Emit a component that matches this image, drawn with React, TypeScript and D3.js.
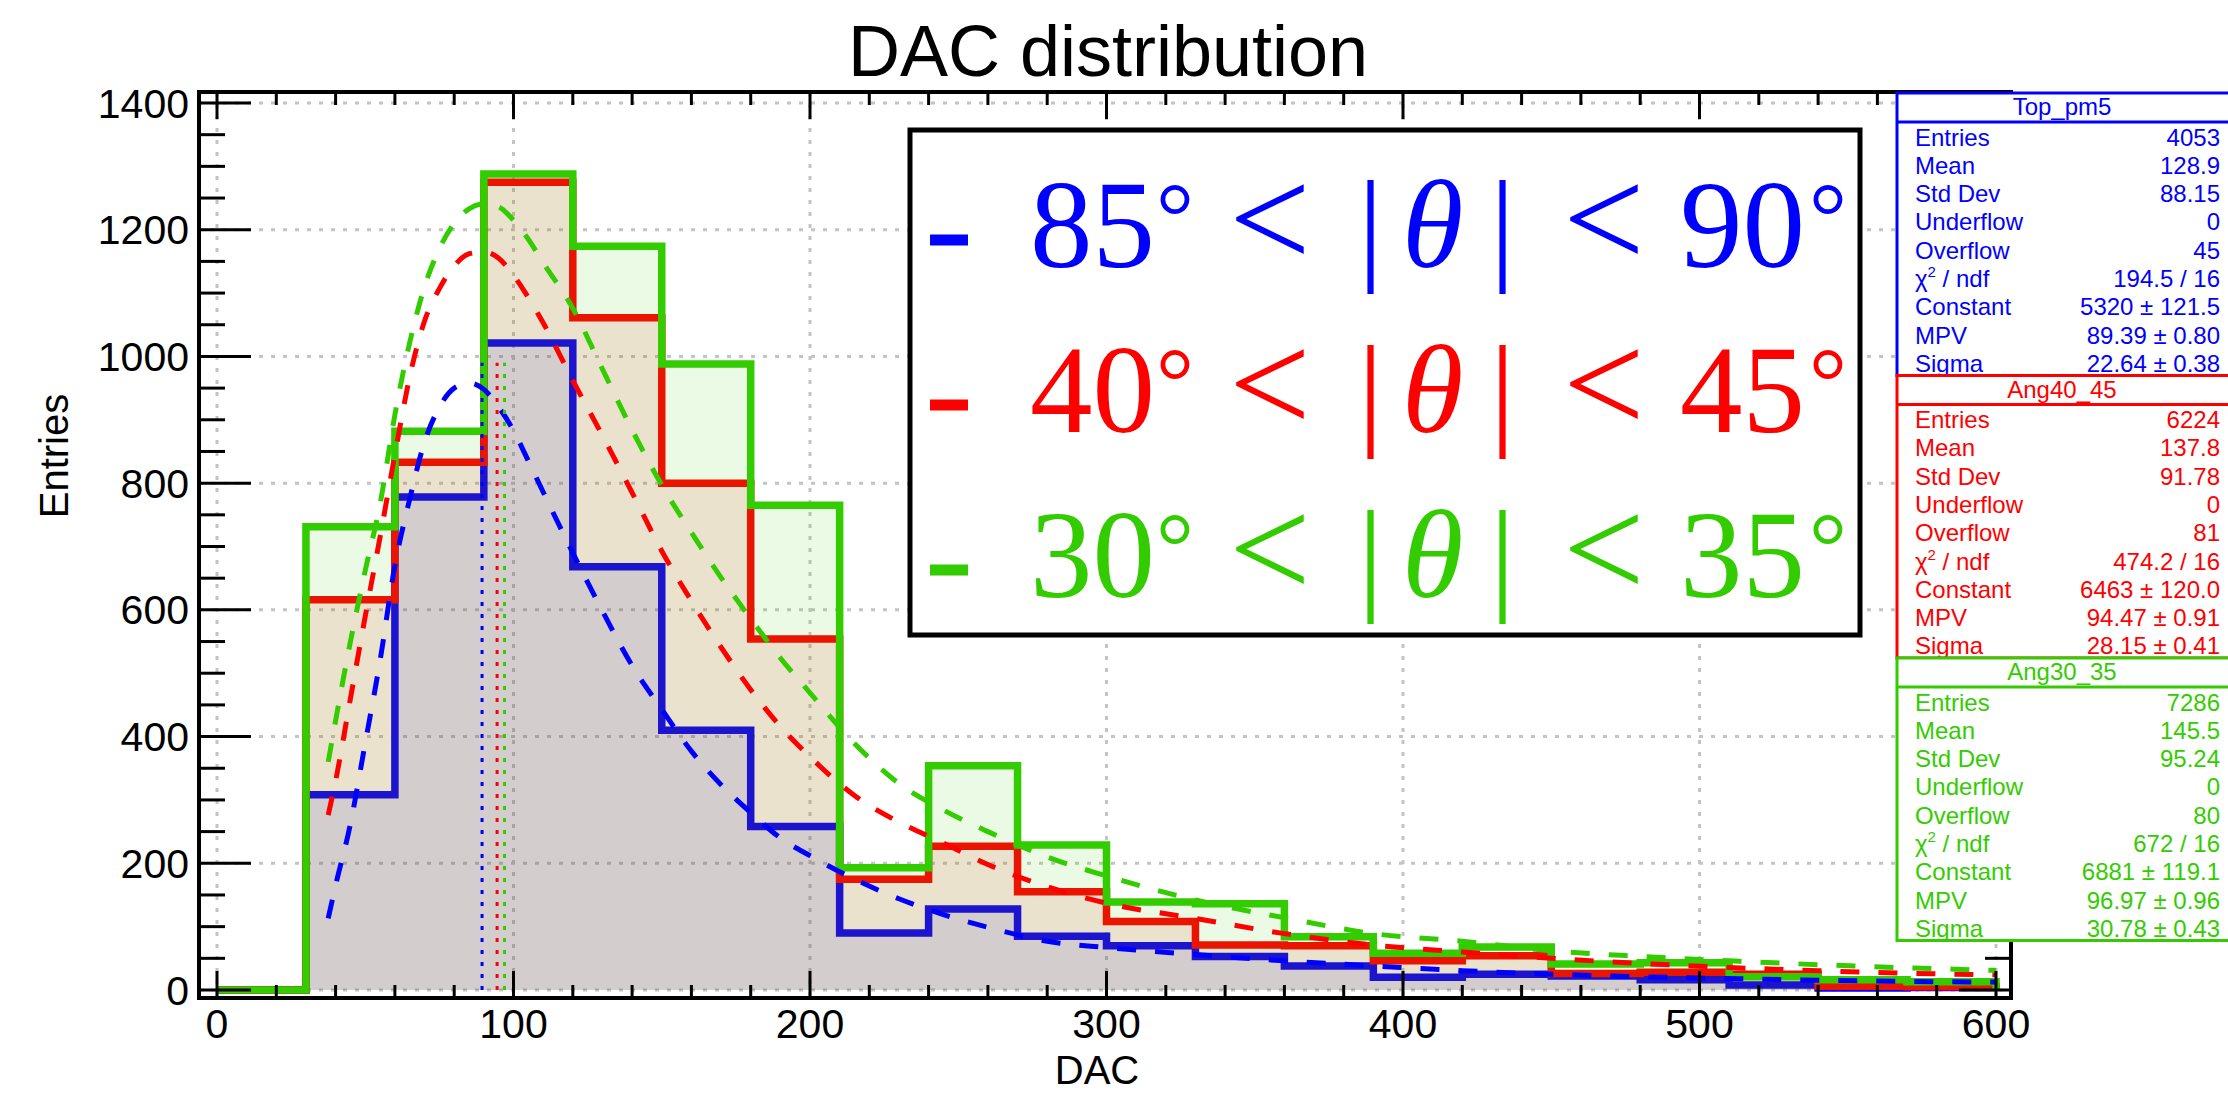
import React from "react";
import * as d3 from "d3";

// histogram bins (DAC)
const binEdges = [0, 30, 60, 90, 120, 150, 180, 210, 240, 270, 300, 330, 360, 390, 420, 450, 480, 510, 540, 570, 600];

// bin contents
const topPm5 = [0, 308, 778, 1021, 668, 410, 258, 90, 128, 85, 70, 53, 38, 20, 25, 22, 16, 8, 3, 4];
const ang40_45 = [0, 616, 833, 1275, 1061, 800, 554, 175, 227, 155, 108, 71, 70, 46, 54, 26, 28, 25, 6, 5];
const ang30_35 = [0, 731, 882, 1288, 1174, 988, 765, 193, 354, 229, 139, 136, 84, 58, 68, 41, 43, 21, 16, 13];

// fitted Landau curves
const fitX = [37.5, 40, 45, 50, 55, 60, 65, 70, 75, 80, 85, 90, 95, 100, 105, 110, 120, 130, 140, 150, 160, 170, 180, 190, 200, 215, 230, 245, 260, 280, 300, 330, 360, 390, 420, 450, 480, 510, 540, 570, 600];
const fitTopPm5 = [113, 165, 262, 390, 520, 670, 775, 865, 920, 950, 958, 948, 920, 883, 835, 786, 690, 598, 512, 443, 377, 324, 280, 240, 212, 175, 144, 119, 99, 77, 67, 56, 46, 38, 30.5, 25, 21, 18, 15.5, 13.5, 12.5];
const fitAng40_45 = [276, 330, 460, 590, 715, 845, 968, 1056, 1107, 1143, 1162, 1165, 1155, 1128, 1093, 1053, 962, 875, 785, 693, 614, 541, 474, 416, 368, 307, 265, 232, 198, 163, 137, 113, 89, 71, 60, 50, 42, 35.5, 30.5, 26.5, 24];
const fitAng30_35 = [360, 425, 550, 662, 767, 908, 1022, 1110, 1170, 1210, 1233, 1241, 1236, 1215, 1185, 1148, 1076, 980, 884, 797, 722, 651, 586, 524, 469, 389, 326, 284, 250, 210, 180, 142, 114, 89, 77, 62, 53, 46, 40, 35, 31];

// fit MPV values (dotted markers)
const mpvValues = [89.39, 94.47, 96.97];
const mpvLineTop = 990;

// ticks
const xTicks = [0, 100, 200, 300, 400, 500, 600];
const yTicks = [0, 200, 400, 600, 800, 1000, 1200, 1400];
const xMinorStep = 20;
const yMinorStep = 50;

// legend
const legendLow = [85, 40, 30];
const legendHigh = [90, 45, 35];

// stats boxes
const statNames = ["Top_pm5", "Ang40_45", "Ang30_35"];
const statLabels = ["Entries", "Mean", "Std Dev", "Underflow", "Overflow", "chi2", "Constant", "MPV", "Sigma"];
const statTopPm5 = ["4053", "128.9", "88.15", "0", "45", "194.5 / 16", "5320 ± 121.5", "89.39 ± 0.80", "22.64 ± 0.38"];
const statAng40_45 = ["6224", "137.8", "91.78", "0", "81", "474.2 / 16", "6463 ± 120.0", "94.47 ± 0.91", "28.15 ± 0.41"];
const statAng30_35 = ["7286", "145.5", "95.24", "0", "80", "672 / 16", "6881 ± 119.1", "96.97 ± 0.96", "30.78 ± 0.43"];

const colors = ["#0000ff", "#ff0000", "#33cc00"];

const series = [
  { hist: topPm5, fit: fitTopPm5, stats: statTopPm5 },
  { hist: ang40_45, fit: fitAng40_45, stats: statAng40_45 },
  { hist: ang30_35, fit: fitAng30_35, stats: statAng30_35 },
].map((s, i) => ({ ...s, name: statNames[i], color: colors[i], mpv: mpvValues[i], low: legendLow[i], high: legendHigh[i] }));

const W = 2228;
const H = 1093;
const frame = { left: 199, right: 2011, top: 92, bottom: 998 };
const sans = "'Liberation Sans', Arial, Helvetica, sans-serif";
const serif = "'Liberation Serif', 'Times New Roman', serif";

const x = d3.scaleLinear().domain([0, 600]).range([217, 1996]);
const y = d3.scaleLinear().domain([0, 1400]).range([990, 103]);

const histLine = d3
  .line<[number, number]>()
  .x((d) => x(d[0]))
  .y((d) => y(d[1]));

const histPoints = (vals: number[]) => {
  const pts: [number, number][] = [[binEdges[0], 0]];
  vals.forEach((v, i) => {
    pts.push([binEdges[i], v]);
    pts.push([binEdges[i + 1], v]);
  });
  pts.push([binEdges[binEdges.length - 1], 0]);
  return pts;
};

const fitLine = d3
  .line<number>()
  .x((_, i) => x(fitX[i]))
  .y((d) => y(d))
  .curve(d3.curveMonotoneX);

const xMinor = d3.range(0, 600 + 1, xMinorStep).filter((v) => !xTicks.includes(v));
const yMinor = d3.range(0, 1400 + 1, yMinorStep).filter((v) => !yTicks.includes(v));

const App = () => {
  const boxTop = 93;
  const boxH = 282.5;
  const legendBase = [267, 432, 597];

  return (
    <svg width={W} height={H} style={{ position: "absolute", left: 0, top: 0, background: "white" }}>
      <rect x={0} y={0} width={W} height={H} fill="white" />

      {/* grid */}
      <g stroke="#c4c4c4" strokeWidth={3} strokeDasharray="4,8">
        {xTicks.map((t) => (
          <line key={"gx" + t} x1={x(t)} x2={x(t)} y1={frame.top} y2={frame.bottom} />
        ))}
        {yTicks.map((t) => (
          <line key={"gy" + t} x1={frame.left} x2={frame.right} y1={y(t)} y2={y(t)} />
        ))}
      </g>

      {/* histograms */}
      {series.map((s) => {
        const d = histLine(histPoints(s.hist));
        return (
          <g key={s.name}>
            <path d={d + "Z"} fill={s.color} fillOpacity={0.1} stroke="none" />
            <path d={d} fill="none" stroke={s.color} strokeWidth={7.5} strokeLinejoin="miter" />
          </g>
        );
      })}

      {/* fits */}
      {series.map((s) => (
        <path key={"fit" + s.name} d={fitLine(s.fit)} fill="none" stroke={s.color} strokeWidth={5} strokeDasharray="19,19" />
      ))}

      {/* MPV markers */}
      {series.map((s) => (
        <line key={"mpv" + s.name} x1={x(s.mpv)} x2={x(s.mpv)} y1={y(0)} y2={y(mpvLineTop)} stroke={s.color} strokeWidth={3} strokeDasharray="4,8" />
      ))}

      {/* frame and ticks */}
      <g stroke="black" strokeWidth={3}>
        {xTicks.map((t) => (
          <g key={"tx" + t}>
            <line x1={x(t)} x2={x(t)} y1={frame.bottom} y2={frame.bottom - 27} />
            <line x1={x(t)} x2={x(t)} y1={frame.top} y2={frame.top + 27} />
          </g>
        ))}
        {xMinor.map((t) => (
          <g key={"mx" + t}>
            <line x1={x(t)} x2={x(t)} y1={frame.bottom} y2={frame.bottom - 13} />
            <line x1={x(t)} x2={x(t)} y1={frame.top} y2={frame.top + 13} />
          </g>
        ))}
        {yTicks.map((t) => (
          <g key={"ty" + t}>
            <line x1={frame.left} x2={frame.left + 52} y1={y(t)} y2={y(t)} />
            <line x1={frame.right} x2={frame.right - 52} y1={y(t)} y2={y(t)} />
          </g>
        ))}
        {yMinor.map((t) => (
          <g key={"my" + t}>
            <line x1={frame.left} x2={frame.left + 26} y1={y(t)} y2={y(t)} />
            <line x1={frame.right} x2={frame.right - 26} y1={y(t)} y2={y(t)} />
          </g>
        ))}
      </g>
      <rect x={frame.left} y={frame.top} width={frame.right - frame.left} height={frame.bottom - frame.top} fill="none" stroke="black" strokeWidth={4} />

      {/* tick labels */}
      <g fontFamily={sans} fontSize={41} fill="black">
        {xTicks.map((t) => (
          <text key={"lx" + t} x={x(t)} y={1038} textAnchor="middle">{t}</text>
        ))}
        {yTicks.map((t) => (
          <text key={"ly" + t} x={189} y={y(t) + 14.5} textAnchor="end">{t}</text>
        ))}
      </g>

      {/* titles */}
      <text x={1108} y={76} textAnchor="middle" fontFamily={sans} fontSize={72}>DAC distribution</text>
      <text x={1097} y={1084} textAnchor="middle" fontFamily={sans} fontSize={40}>DAC</text>
      <text transform="translate(68,456) rotate(-90)" textAnchor="middle" fontFamily={sans} fontSize={40}>Entries</text>

      {/* legend */}
      <rect x={910} y={130} width={950} height={505} fill="white" stroke="black" strokeWidth={5} />
      {series.map((s, i) => {
        const b = legendBase[i];
        return (
          <g key={"leg" + s.name} fill={s.color} fontFamily={serif}>
            <rect x={930} y={b - 32.5} width={38} height={11} />
            <text x={1030} y={b} fontSize={125}>{s.low}</text>
            <text x={1156} y={b - 18} fontSize={95}>°</text>
            <text x={1229} y={b} fontSize={145}>&lt;</text>
            <text x={1358} y={b} fontSize={125}>|</text>
            <text x={1402} y={b} fontSize={125} fontStyle="italic">θ</text>
            <text x={1490} y={b} fontSize={125}>|</text>
            <text x={1563} y={b} fontSize={145}>&lt;</text>
            <text x={1680} y={b} fontSize={125}>{s.high}</text>
            <text x={1809} y={b - 18} fontSize={95}>°</text>
          </g>
        );
      })}

      {/* stats boxes */}
      {series.map((s, k) => {
        const top = boxTop + k * boxH;
        return (
          <g key={"st" + s.name} fontFamily={sans} fontSize={24} fill={s.color}>
            <rect x={1897} y={top} width={345} height={boxH} fill="white" stroke={s.color} strokeWidth={3} />
            <line x1={1897} x2={2242} y1={top + 29} y2={top + 29} stroke={s.color} strokeWidth={3} />
            <text x={2062} y={top + 22} textAnchor="middle">{s.name}</text>
            {statLabels.map((lab, i) => {
              const by = top + 44 + i * 28.3 + 8.5;
              return (
                <g key={lab}>
                  {lab === "chi2" ? (
                    <text x={1915} y={by}>
                      χ<tspan fontSize={15} dy={-10}>2</tspan>
                      <tspan dy={10}> / ndf</tspan>
                    </text>
                  ) : (
                    <text x={1915} y={by}>{lab}</text>
                  )}
                  <text x={2220} y={by} textAnchor="end">{s.stats[i]}</text>
                </g>
              );
            })}
          </g>
        );
      })}
    </svg>
  );
};

export default App;
